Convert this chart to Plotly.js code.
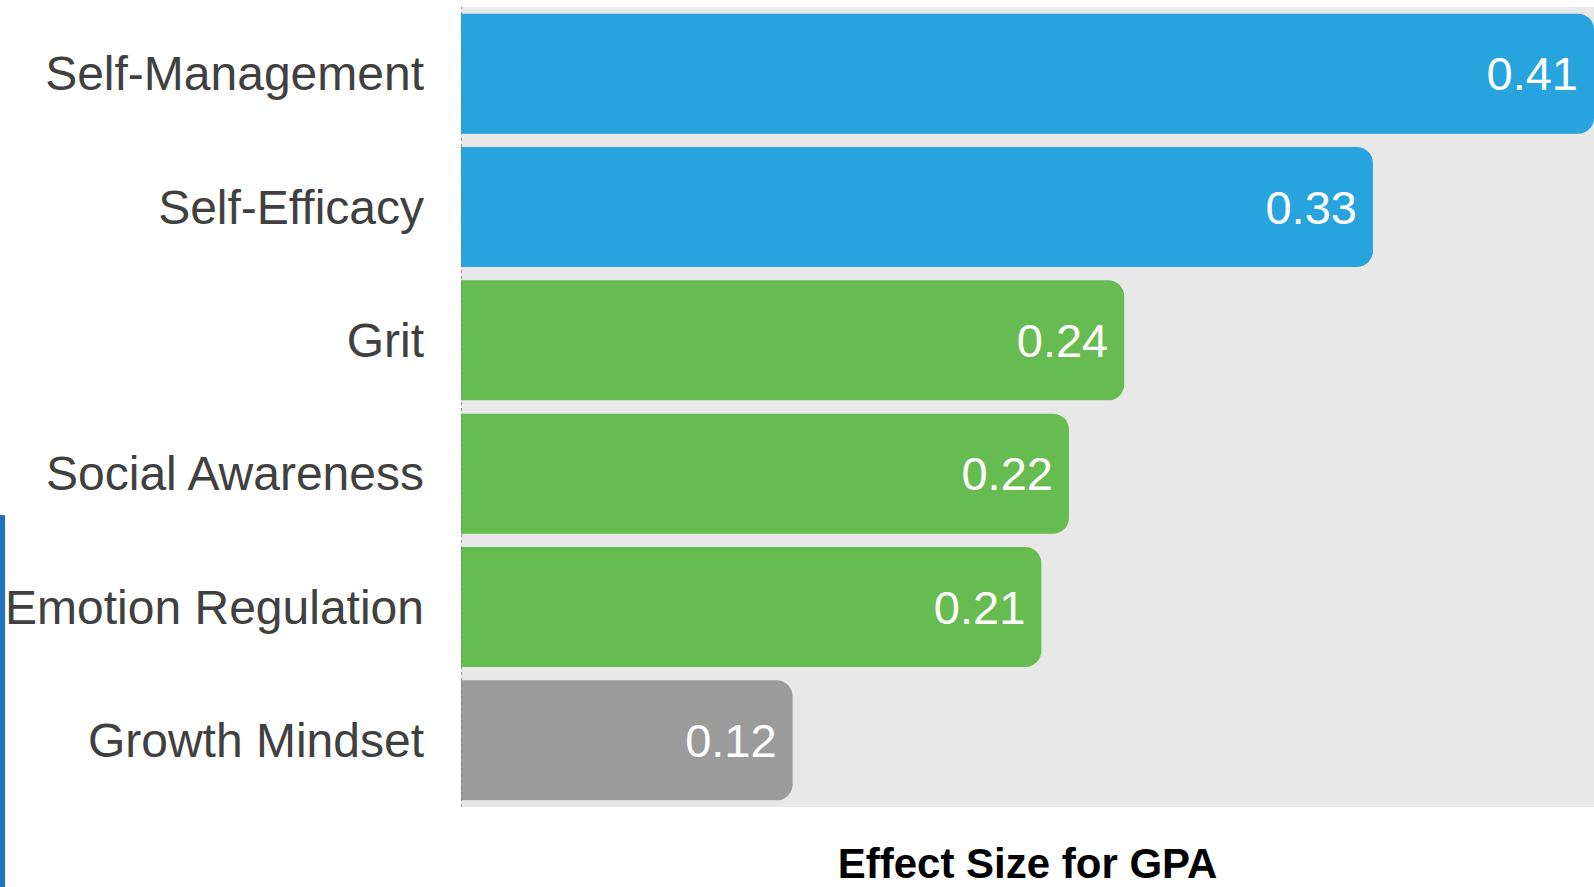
<!DOCTYPE html>
<html>
<head>
<meta charset="utf-8">
<script src="https://cdn.plot.ly/plotly-3.0.1.min.js"></script>
<style>
  html, body { margin: 0; padding: 0; background: #ffffff; }
  #chart { width: 1594px; height: 887px; }
  #edge { position: absolute; left: 0; top: 515px; width: 5px; height: 372px; background: #1f72bf; }
</style>
</head>
<body>
<div id="chart"></div>
<div id="edge"></div>
<script>
// Data
const categories = ["Self-Management", "Self-Efficacy", "Grit", "Social Awareness", "Emotion Regulation", "Growth Mindset"];
const effectSizes = [0.41, 0.33, 0.24, 0.22, 0.21, 0.12];
const xAxisTitle = "Effect Size for GPA";

// Styles
const barColors = ["#27a4dd", "#27a4dd", "#66bc50", "#66bc50", "#66bc50", "#9b9b9b"];

const trace = {
  type: "bar",
  orientation: "h",
  y: categories,
  x: effectSizes,
  marker: { color: barColors, cornerradius: 16, line: { width: 0 } },
  texttemplate: "%{x:.2f}",
  textposition: "inside",
  insidetextanchor: "end",
  insidetextfont: { family: "Liberation Sans, Arial, sans-serif", size: 47, color: "#ffffff" },
  hoverinfo: "none",
  cliponaxis: false
};

const layout = {
  width: 1594,
  height: 887,
  margin: { l: 461, r: 0, t: 7, b: 80, pad: 0 },
  paper_bgcolor: "#ffffff",
  plot_bgcolor: "#e8e8e8",
  bargap: 0.1,
  showlegend: false,
  font: { family: "Liberation Sans, Arial, sans-serif", color: "#444444" },
  xaxis: {
    range: [0, 0.41],
    showgrid: false,
    zeroline: false,
    showticklabels: false,
    ticks: "",
    fixedrange: true,
    automargin: false,
    title: {
      text: "<b>" + xAxisTitle + "</b>",
      font: { family: "Liberation Sans, Arial, sans-serif", size: 42, color: "#000000" },
      standoff: 51
    }
  },
  yaxis: {
    autorange: "reversed",
    showgrid: false,
    zeroline: false,
    ticks: "",
    ticklabelstandoff: 36,
    automargin: false,
    fixedrange: true,
    tickfont: { family: "Liberation Sans, Arial, sans-serif", size: 48, color: "#404040" }
  },
  shapes: [{
    type: "line",
    xref: "x", yref: "paper",
    x0: 0, x1: 0, y0: 0, y1: 1,
    line: { color: "#7a7a7a", width: 1.5, dash: "dot" },
    layer: "above"
  }]
};

Plotly.newPlot("chart", [trace], layout, { displayModeBar: false, staticPlot: true });
</script>
</body>
</html>
